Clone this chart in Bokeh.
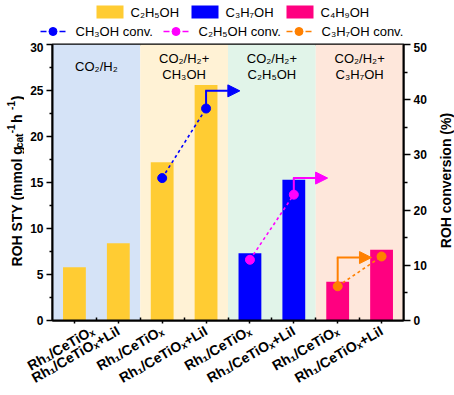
import numpy as np
from bokeh.plotting import figure
from bokeh.layouts import column, row
from bokeh.models import (Range1d, LinearAxis, FixedTicker, Arrow, NormalHead)
from bokeh.core.properties import value
from bokeh.embed import file_html
from bokeh.resources import INLINE

# ---------------- data ----------------
catalysts = ["Rh₁/CeTiOₓ", "Rh₁/CeTiOₓ+LiI"] * 4
feeds = ["CO₂/H₂", "CO₂/H₂+\nCH₃OH", "CO₂/H₂+\nC₂H₅OH", "CO₂/H₂+\nC₃H₇OH"]
feed_colors = ["#d5e3f7", "#fff2d5", "#e1f4e9", "#fee7db"]

product_names = ["C₂H₅OH", "C₃H₇OH", "C₄H₉OH"]
product_colors = ["#ffcc33", "#0000ff", "#ff0080"]
product_bar_index = [[0, 1, 2, 3], [4, 5], [6, 7]]
product_sty = [[5.8, 8.4, 17.2, 25.6], [7.3, 15.3], [4.2, 7.7]]

conv_names = ["CH₃OH conv.", "C₂H₅OH conv.", "C₃H₇OH conv."]
conv_colors = ["#0000ff", "#ff00ff", "#ff8000"]
conv_bar_index = [[2, 3], [4, 5], [6, 7]]
conv_values = [[25.8, 38.4], [11.0, 22.8], [6.2, 11.6]]
arrow_from = [1, 1, 0]
arrow_levels = [41.6, 25.8, 11.4]

sty_ticks = [0, 5, 10, 15, 20, 25, 30]
conv_ticks = [0, 10, 20, 30, 40, 50]

FONT = "Liberation Sans"
W, H = 454, 395
TOP_H = 42
LEFT_W = 24
RIGHT_W = 22
FRAME_TOP, FRAME_BOTTOM = 44, 325   # window pixel rows of the plot frame


def blank_fig(width, height, xr, yr):
    f = figure(width=width, height=height, x_range=xr, y_range=yr,
               output_backend="svg", toolbar_location=None, title=None,
               min_border=0, x_axis_location=None, y_axis_location=None)
    f.xgrid.visible = False
    f.ygrid.visible = False
    f.outline_line_color = None
    f.background_fill_color = "white"
    return f


# ---------------- main figure ----------------
p = figure(width=W - LEFT_W - RIGHT_W, height=H - TOP_H, x_range=Range1d(0, 8),
           y_range=Range1d(0, 30),
           output_backend="svg", toolbar_location=None, title=None,
           min_border_left=28, min_border_right=29, min_border_top=2,
           min_border_bottom=10)
p.extra_y_ranges = {"conv": Range1d(0, 50)}
p.xgrid.visible = False
p.ygrid.visible = False
p.outline_line_color = "black"
p.outline_line_width = 2
p.background_fill_color = "white"

# background bands
n_groups = len(feeds)
p.vbar(x=[2 * g + 1 for g in range(n_groups)], width=2, bottom=0, top=sty_ticks[-1],
       fill_color=feed_colors, line_color=None)

# band texts
p.text(x=[2 * g + 1 for g in range(n_groups)], y=[27.6] * n_groups, text=feeds,
       text_align="center", text_baseline="middle", text_font=value(FONT),
       text_font_size="13px", text_line_height=1.1, text_color="black")

# bars
bar_renderers = []
for idx, vals, col in zip(product_bar_index, product_sty, product_colors):
    r = p.vbar(x=[i + 0.5 for i in idx], top=vals, width=0.52, bottom=0,
               fill_color=col, line_color=None)
    bar_renderers.append(r)

# conversion lines, points and arrows
for idx, vals, col, af, lvl in zip(conv_bar_index, conv_values, conv_colors,
                                   arrow_from, arrow_levels):
    xs = [i + 0.5 for i in idx]
    p.line(xs, vals, line_color=col, line_width=1.6, line_dash="3 3",
           y_range_name="conv")
    p.scatter(xs, vals, size=9, fill_color=col, line_color=col,
              y_range_name="conv")
    x0 = xs[af]
    p.segment(x0=[x0], y0=[vals[af]], x1=[x0], y1=[lvl], line_color=col,
              line_width=2, y_range_name="conv")
    p.add_layout(Arrow(x_start=x0 - 0.02, y_start=lvl, x_end=x0 + 0.77, y_end=lvl,
                       line_color=col, line_width=2, y_range_name="conv",
                       end=NormalHead(size=12, fill_color=col, line_color=col)))

# axes
tick_font = dict(major_label_text_font=FONT, major_label_text_font_size="12px",
                 major_label_text_font_style="bold", major_label_text_color="black",
                 axis_line_width=2, axis_line_color="black",
                 major_tick_line_width=1.5, minor_tick_line_width=1.5,
                 major_tick_line_color="black", minor_tick_line_color="black")

ly = p.yaxis[0]
ly.ticker = FixedTicker(ticks=sty_ticks,
                        minor_ticks=[t + 2.5 for t in sty_ticks[:-1]])
ly.update(major_tick_out=6, major_tick_in=0, minor_tick_out=3, minor_tick_in=0,
          major_label_standoff=3, **tick_font)

ry = LinearAxis(y_range_name="conv",
                ticker=FixedTicker(ticks=conv_ticks,
                                   minor_ticks=[t + 5 for t in conv_ticks[:-1]]))
ry.update(major_tick_out=7, major_tick_in=0, minor_tick_out=4, minor_tick_in=0,
          major_label_standoff=3, **tick_font)
p.add_layout(ry, "right")

bx = p.xaxis[0]
bx.ticker = FixedTicker(ticks=[i + 0.5 for i in range(len(catalysts))],
                        minor_ticks=list(range(1, len(catalysts))))
bx.major_label_overrides = {i + 0.5: c for i, c in enumerate(catalysts)}
bx.update(major_tick_out=3, major_tick_in=0, minor_tick_out=0, minor_tick_in=3,
          major_label_standoff=6, major_label_orientation=np.pi / 6, **tick_font)
bx.major_label_text_font_size = "14px"

# ---------------- legend strip (window pixel coords) ----------------
top = blank_fig(W, TOP_H, Range1d(0, W), Range1d(TOP_H, 0))
for i, (name, col) in enumerate(zip(product_names, product_colors)):
    x0 = 96 + 95 * i
    top.quad(left=[x0], right=[x0 + 27], top=[5], bottom=[18], fill_color=col,
             line_color=None)
    top.text(x=[x0 + 34], y=[12], text=[name], text_font=value(FONT),
             text_font_size="13px", text_baseline="middle", text_align="left",
             text_color="black")
for i, (name, col) in enumerate(zip(conv_names, conv_colors)):
    x0 = 40 + 123 * i
    top.segment(x0=[x0, x0 + 19], y0=[31, 31], x1=[x0 + 6, x0 + 25], y1=[31, 31],
                line_color=col, line_width=1.6)
    top.scatter(x=[x0 + 12.5], y=[31], size=8, fill_color=col, line_color=col)
    top.text(x=[x0 + 35], y=[31], text=[name], text_font=value(FONT),
             text_font_size="13px", text_baseline="middle", text_align="left",
             text_color="black")

# ---------------- axis titles (window pixel coords; frames align with main) ----
left = blank_fig(LEFT_W, H - TOP_H, Range1d(0, LEFT_W),
                 Range1d(FRAME_BOTTOM, FRAME_TOP))
pieces = [("ROH STY (mmol g", "14px", 16, 270), ("cat", "10px", 19, 149.4),
          ("-1", "10px", 10, 134.4), (" h", "14px", 16, 124.0),
          ("-1", "10px", 10, 110.6), (")", "14px", 16, 100.7)]
for txt, size, px_, py_ in pieces:
    left.text(x=[px_], y=[py_], text=[txt], angle=np.pi / 2, text_font=value(FONT),
              text_font_size=size, text_font_style="bold",
              text_baseline="alphabetic", text_align="left", text_color="black")

right = blank_fig(RIGHT_W, H - TOP_H, Range1d(W - RIGHT_W, W),
                  Range1d(FRAME_BOTTOM, FRAME_TOP))
right.text(x=[445], y=[182.5], text=["ROH conversion (%)"], angle=np.pi / 2,
           text_font=value(FONT), text_font_size="14px", text_font_style="bold",
           text_baseline="alphabetic", text_align="center", text_color="black")

layout = column(top, row(left, p, right))
open("out.html", "w").write(file_html(layout, INLINE))
